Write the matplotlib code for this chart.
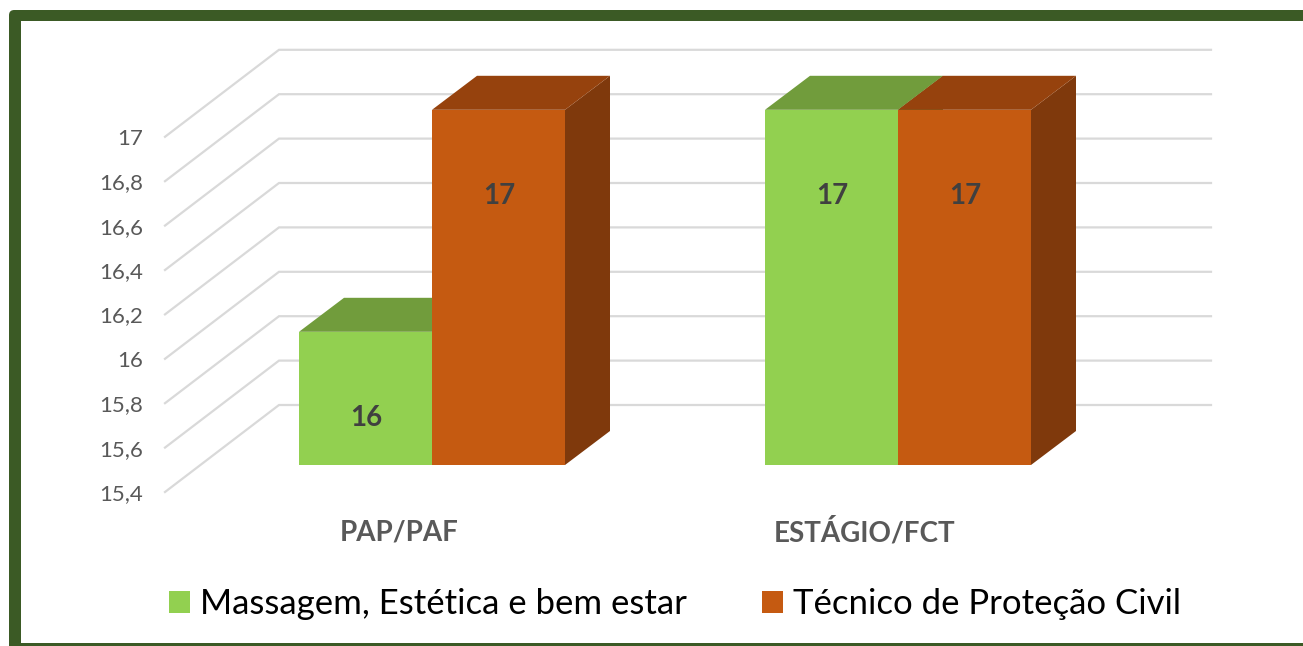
import matplotlib
matplotlib.use("Agg")
import matplotlib.pyplot as plt
from matplotlib.patches import Polygon, FancyBboxPatch, Rectangle
import numpy as np

plt.rcParams['font.family'] = ['Lato', 'DejaVu Sans']

# data
categories = ["PAP/PAF", "ESTÁGIO/FCT"]
massagem = [16, 17]
tecnico = [17, 17]
series_names = ["Massagem, Estética e bem estar", "Técnico de Proteção Civil"]
y_ticks = [15.4, 15.6, 15.8, 16, 16.2, 16.4, 16.6, 16.8, 17]

W, H = 1303, 646
base = 15.4

# pixels per unit, used only to set up the scales
px_x = 466
px_y = 222
cat0 = 432
base_px = 465


def dx(px):
    return px / px_x


def dy(px):
    return px / px_y


fig = plt.figure(figsize=(W / 100, H / 100), dpi=100, facecolor="white")

# green frame behind the chart
frame = FancyBboxPatch((9 / W, -0.1), 1.2, 1.1 - 10 / H, transform=fig.transFigure,
                       boxstyle="round,pad=0,rounding_size=0.004", fc="#3B5A25", ec="none",
                       mutation_aspect=W / H, zorder=-2)
fig.patches.append(frame)
inner = Rectangle((20.5 / W, 3 / H), 1.0, 1 - 23.5 / H, transform=fig.transFigure,
                  fc="white", ec="none", zorder=-1)
fig.patches.append(inner)

ax = fig.add_axes([0, 0, 1, 1])
ax.patch.set_alpha(0)
ax.set_xlim(-cat0 / px_x, (W - cat0) / px_x)
ax.set_ylim(base - (H - base_px) / px_y, base + base_px / px_y)
ax.axis("off")

x = np.arange(len(categories))
bar_w = 133 / px_x

# floor/back wall offsets relative to the bar front
wall_left = dx(279 - cat0)
wall_right = dx(1211 - cat0)
front_left = dx(165 - cat0)
wall_up = dy(60)
front_down = dy(27)

grid_c = "#D9D9D9"
for v in y_ticks:
    ax.plot([front_left, wall_left, wall_right], [v - front_down, v + wall_up, v + wall_up],
            color=grid_c, lw=1.6, zorder=1, solid_joinstyle="miter")
    ax.text(dx(143 - cat0), v - front_down - dy(2), str(v).replace(".", ","), ha="right", va="center",
            fontsize=16, color="#595959")

depth_x = dx(45)
depth_y = dy(34)


def draw_series(xs, vals, front, top, side, z):
    bars = ax.bar(xs, np.array(vals) - base, bar_w, bottom=base, color=front, zorder=z + 2, label=None)
    for b, v in zip(xs, vals):
        l, r = b - bar_w / 2, b + bar_w / 2
        ax.add_patch(Polygon([(l, v), (r, v), (r + depth_x, v + depth_y), (l + depth_x, v + depth_y)],
                             fc=top, ec="none", zorder=z + 1))
        ax.add_patch(Polygon([(r, base), (r + depth_x, base + depth_y), (r + depth_x, v + depth_y), (r, v)],
                             fc=side, ec="none", zorder=z))
        ax.text(b + dx(1), v - dy(86), str(v), ha="center", va="center", fontsize=20,
                fontweight="bold", color="#404040", zorder=10)
    return bars


h1 = draw_series(x - bar_w / 2, massagem, "#92D050", "#719C3C", "#5F8232", 2)
h2 = draw_series(x + bar_w / 2, tecnico, "#C55A11", "#96420D", "#7F390C", 5)

for c, name in zip(x, categories):
    ax.text(c - dx(33), base - dy(67), name, ha="center", va="center", fontsize=20,
            fontweight="bold", color="#595959")

ax.legend([Rectangle((0, 0), 1, 1, fc="#92D050"), Rectangle((0, 0), 1, 1, fc="#C55A11")], series_names,
          ncol=2, loc="center left", bbox_to_anchor=(169 / W, 1 - 604 / H), frameon=False,
          fontsize=25, handlelength=0.6, handleheight=0.6, handletextpad=0.3,
          columnspacing=2.15, borderpad=0, borderaxespad=0, labelcolor="black")

fig.savefig("out.png", dpi=100)
